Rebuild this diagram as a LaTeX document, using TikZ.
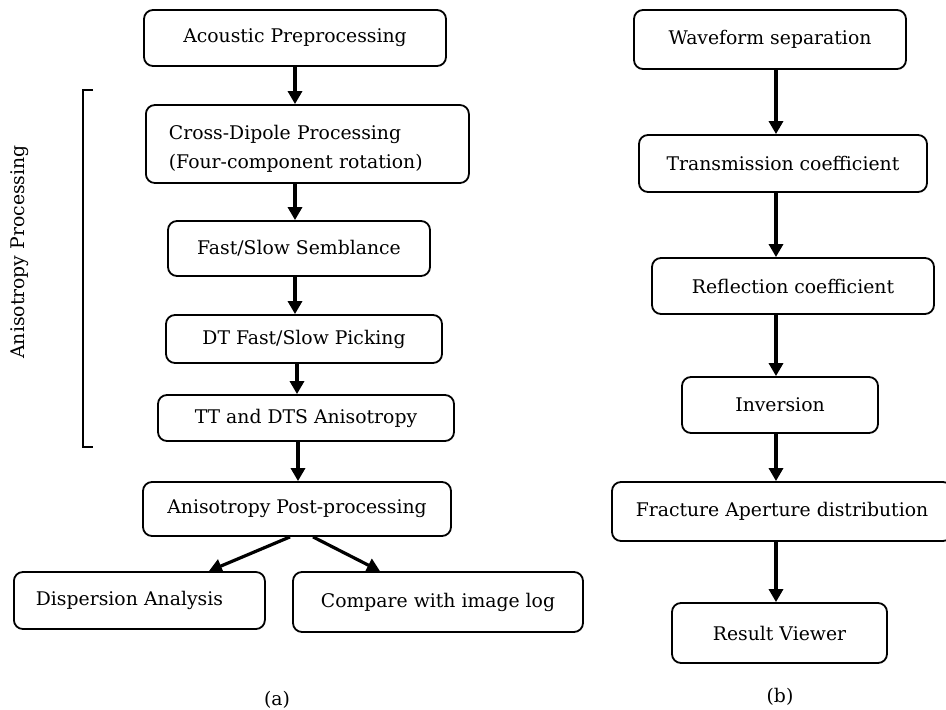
\documentclass[tikz,border=0pt]{standalone}
\usepackage{fontspec}
\setmainfont{DejaVu Serif}
\usetikzlibrary{arrows.meta,calc}
\begin{document}
\begin{tikzpicture}[x=1pt,y=-1pt,
  every node/.style={font=\fontsize{18.8}{29}\selectfont},
  box/.style={draw, line width=1.8pt, rounded corners=9pt, inner sep=0pt, align=center},
  arr/.style={line width=3.2pt, -{Triangle[width=14pt,length=13pt]}},
  brk/.style={line width=1.8pt}]
\useasboundingbox (0,0) rectangle (946,710);

% ---- (a) anisotropy workflow ----
\node[box, minimum width=302, minimum height=56] (acou) at (295,38) {Acoustic Preprocessing};
\node[box, anchor=west, text width=277, inner xsep=23, minimum height=78, align=left] (cross) at (145,144)
  {\rule{0pt}{24pt}Cross-Dipole Processing\\(Four-component rotation)};
\node[box, minimum width=262, minimum height=55] (fast) at (299,248.5) {Fast/Slow Semblance};
\node[box, minimum width=276, minimum height=48] (pick) at (304,339) {DT Fast/Slow Picking};
\node[box, minimum width=296, minimum height=46] (tt) at (306,418) {TT and DTS Anisotropy};
\node[box, minimum width=308, minimum height=54] (post) at (297,509) {Anisotropy Post-processing};
\node[box, anchor=west, text width=207, inner xsep=22, minimum height=57, align=left] (disp) at (13,600.5)
  {Dispersion Analysis};
\node[box, minimum width=290, minimum height=60] (comp) at (438,602) {Compare with image log};

\coordinate (ax) at (295,0);
\draw[arr] (acou.south -| ax) -- (cross.north -| ax);
\draw[arr] (cross.south -| ax) -- (fast.north -| ax);
\draw[arr] (fast.south -| ax) -- (pick.north -| ax);
\draw[arr] ([xshift=-7]pick.south) -- ([xshift=-7]pick.south |- tt.north);
\draw[arr] ([xshift=-8]tt.south) -- ([xshift=-8]tt.south |- post.north);
\draw[arr] ([xshift=-7]post.south) -- ([xshift=69.5]disp.north);
\draw[arr] ([xshift=16]post.south) -- ([xshift=-58]comp.north);

% bracket grouping the anisotropy steps
\draw[brk] (93,90) -- (83,90) -- (83,447) -- (93,447);
\node[rotate=90] (grp) at (20,252) {Anisotropy Processing};

\node (la) at (277,700) {(a)};

% ---- (b) fracture aperture workflow ----
\node[box, minimum width=272, minimum height=59] (wave) at (770,39.5) {Waveform separation};
\node[box, minimum width=288, minimum height=57] (trans) at (783,163.5) {Transmission coefficient};
\node[box, minimum width=282, minimum height=56] (refl) at (793,286) {Reflection coefficient};
\node[box, minimum width=196, minimum height=56] (inv) at (780,405) {Inversion};
\node[box, minimum width=340, minimum height=59] (frac) at (782,511.5) {Fracture Aperture distribution};
\node[box, minimum width=215, minimum height=60] (res) at (779.5,633) {Result Viewer};

\coordinate (bx) at (776,0);
\draw[arr] (wave.south -| bx) -- (trans.north -| bx);
\draw[arr] (trans.south -| bx) -- (refl.north -| bx);
\draw[arr] (refl.south -| bx) -- (inv.north -| bx);
\draw[arr] (inv.south -| bx) -- (frac.north -| bx);
\draw[arr] (frac.south -| bx) -- (res.north -| bx);

\node (lb) at (780,697) {(b)};
\end{tikzpicture}
\end{document}
